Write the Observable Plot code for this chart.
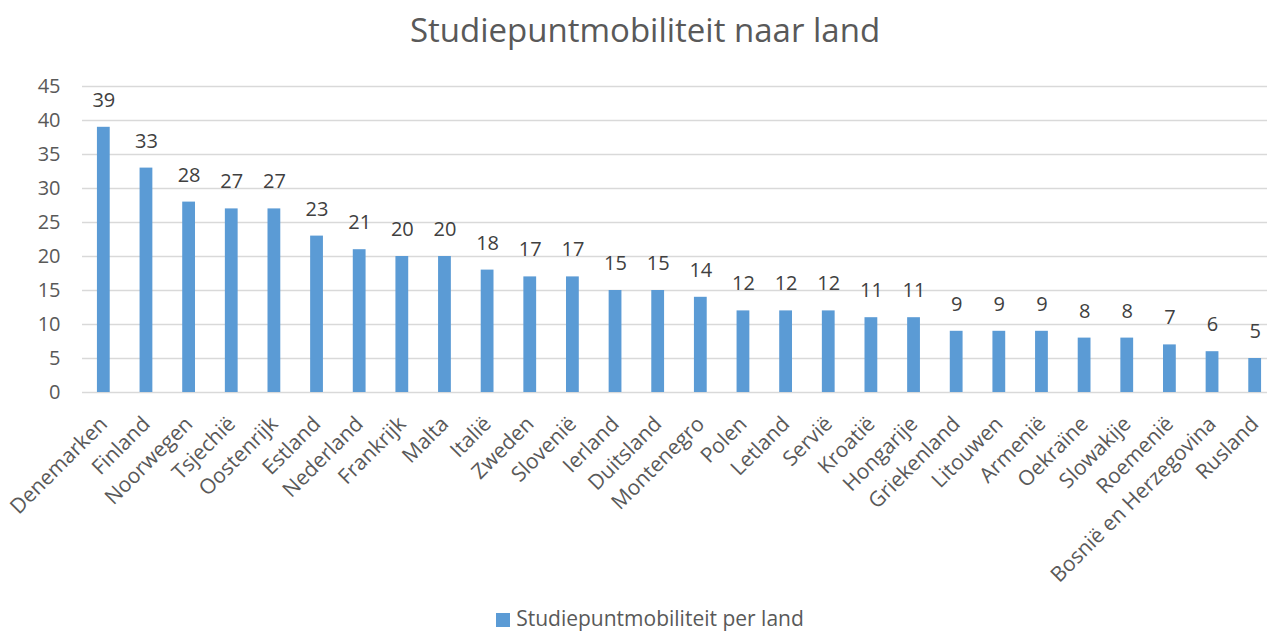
<!DOCTYPE html>
<html><head><meta charset="utf-8">
<script src="https://cdn.jsdelivr.net/npm/d3@7"></script>
<script src="https://cdn.jsdelivr.net/npm/@observablehq/plot@0.6"></script>
<style>
html,body{margin:0;padding:0;background:#fff;overflow:hidden;width:1267px;height:633px;font-family:"Open Sans",sans-serif;}
#title{position:absolute;left:0;top:10px;width:1290px;text-align:center;font-size:33px;line-height:40px;color:#595959;}
#chart{position:absolute;left:0;top:60px;}
#legend{position:absolute;left:0;top:605px;width:1300px;display:flex;justify-content:center;align-items:center;color:#595959;font-size:21px;line-height:26px;}
#legend .sw{width:14px;height:14px;background:#5b9bd5;margin-right:6px;margin-top:4px;}
</style></head>
<body>
<div id="title">Studiepuntmobiliteit naar land</div>
<div id="chart"></div>
<div id="legend"><span class="sw"></span><span>Studiepuntmobiliteit per land</span></div>
<script>
const landen = ["Denemarken","Finland","Noorwegen","Tsjechië","Oostenrijk","Estland","Nederland","Frankrijk","Malta","Italië","Zweden","Slovenië","Ierland","Duitsland","Montenegro","Polen","Letland","Servië","Kroatië","Hongarije","Griekenland","Litouwen","Armenië","Oekraïne","Slowakije","Roemenië","Bosnië en Herzegovina","Rusland"];
const waarden = [39,33,28,27,27,23,21,20,20,18,17,17,15,15,14,12,12,12,11,11,9,9,9,8,8,7,6,5];
const yTicks = [0,5,10,15,20,25,30,35,40,45];
const data = landen.map((land, i) => ({land, waarde: waarden[i]}));

const chart = Plot.plot({
  width: 1267,
  height: 545,
  marginLeft: 82,
  marginRight: -9,
  marginTop: 26,
  marginBottom: 213,
  style: {fontFamily: "'Open Sans', sans-serif", background: "#fff", overflow: "visible"},
  x: {domain: landen, paddingInner: 0.7, paddingOuter: 0.35, round: false, label: null},
  y: {domain: [0, 45], label: null},
  marks: [
    Plot.ruleY(yTicks, {stroke: "#d9d9d9", strokeWidth: 1.3}),
    Plot.barY(data, {x: "land", y: "waarde", fill: "#5b9bd5"}),
    Plot.text(data, {x: "land", y: "waarde", text: d => String(d.waarde), dy: -27, fontSize: 20, fill: "#404040"}),
    Plot.axisY(yTicks, {tickSize: 0, tickPadding: 22, fontSize: 20, color: "#595959", label: null}),
    Plot.axisX({tickSize: 0, tickRotate: -45, tickPadding: 28, fontSize: 21, color: "#595959", label: null})
  ]
});
document.getElementById("chart").appendChild(chart);
</script>
</body></html>
